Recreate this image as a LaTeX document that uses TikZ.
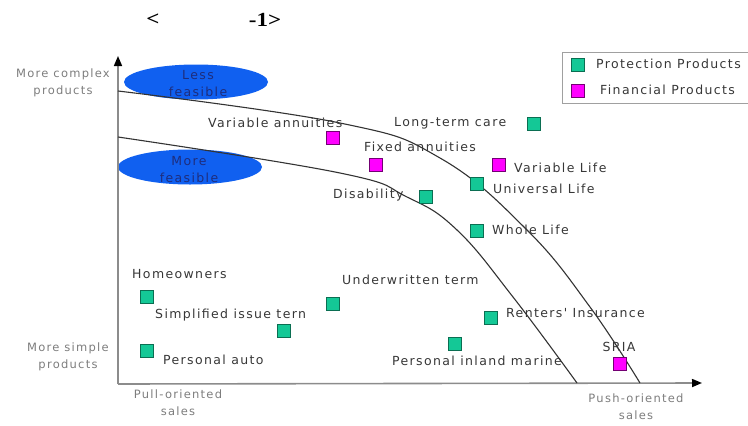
\documentclass[tikz,border=0pt]{standalone}
\usepackage{fontspec}
\usetikzlibrary{shapes.geometric,arrows.meta}
\newfontfamily\lblfont[LetterSpace=11]{DejaVu Sans}
\newfontfamily\ttlfont{Liberation Serif}
\definecolor{protgreen}{RGB}{20,200,150}
\definecolor{finmag}{RGB}{255,0,255}
\definecolor{ellblue}{RGB}{16,96,240}
\definecolor{elltext}{RGB}{30,45,125}
\definecolor{lbltext}{RGB}{55,55,55}
\definecolor{axtext}{RGB}{125,125,125}
\definecolor{axline}{RGB}{140,140,140}
\definecolor{legline}{RGB}{160,160,160}
\begin{document}
\begin{tikzpicture}[x=1pt,y=-1pt,
  lbl/.style={font=\lblfont\fontsize{12.5}{15}\selectfont, text=lbltext, inner sep=0pt, anchor=west},
  axlbl/.style={font=\lblfont\fontsize{11.5}{17}\selectfont, text=axtext, inner sep=0pt, align=center},
  prot/.style={fill=protgreen, draw=protgreen!55!black, line width=0.4pt, minimum size=13pt, inner sep=0pt},
  fin/.style={fill=finmag, draw=finmag!45!black, line width=0.4pt, minimum size=13pt, inner sep=0pt},
  feas/.style={ellipse, fill=ellblue, minimum width=144pt, minimum height=35pt, inner sep=0pt},
  feastext/.style={font=\lblfont\fontsize{12.5}{17}\selectfont, text=elltext, align=center, inner sep=0pt},
  curve/.style={draw=black!80, line width=1.1pt},
  axisline/.style={draw=axline, line width=1.6pt, -{Triangle[length=10pt,width=8pt,color=black]}},
  ttl/.style={font=\ttlfont\bfseries\fontsize{20}{22}\selectfont, inner sep=0pt}
]
\useasboundingbox (0,0) rectangle (748,426);

% title
\node[ttl] (t1) at (153,20) {\scalebox{1.15}[1]{<}};
\node[ttl] (t2) at (265,20) {\scalebox{1.15}[1]{-1>}};

% feasibility ellipses
\node[feas] (less) at (196,82) {};
\node[feastext] (lesst) at (198,84) {Less\\feasible};
\node[feas] (more) at (190,167) {};
\node[feastext] (moret) at (189,170) {More\\feasible};

% axes
\coordinate (O) at (118,384);
\coordinate (ytop) at (118,56);
\coordinate (xend) at (702,383);
\draw[axisline] (O) -- (ytop);
\draw[axisline] (O) -- (xend);

% axis labels
\node[axlbl] (mc) at (63,83) {More complex\\products};
\node[axlbl] (ms) at (68,357) {More simple\\products};
\node[axlbl] (pull) at (178,403) {Pull-oriented\\sales};
\node[axlbl] (push) at (636,407) {Push-oriented\\sales};

% frontier curves
\draw[curve] plot[smooth, tension=0.7] coordinates {(118,91) (340,123) (440,158) (527,230) (590,307) (640,383)};
\draw[curve] plot[smooth, tension=0.7] coordinates {(118,137) (340,173) (407,197) (457,230) (513,297) (577,383)};

% legend
\draw[draw=legline, line width=0.8pt] (562,52) rectangle (760,103);
\node[prot] (lg1) at (578,65) {};
\node[lbl] (lg1t) at (596,64) {Protection Products};
\node[fin] (lg2) at (578,91) {};
\node[lbl] (lg2t) at (600,90) {Financial Products};

% products
\node[fin] (va) at (333,138) {};
\node[lbl] (vat) at (208,123) {Variable annuities};
\node[fin] (fa) at (376,165) {};
\node[lbl] (fat) at (364,147) {Fixed annuities};
\node[prot] (ltc) at (534,124) {};
\node[lbl] (ltct) at (394,123) {Long-term care};
\node[fin] (vl) at (499,165) {};
\node[lbl] (vlt) at (514,168) {Variable Life};
\node[prot] (ul) at (477,184) {};
\node[lbl] (ult) at (493,189) {Universal Life};
\node[prot] (dis) at (426,197) {};
\node[lbl] (dist) at (333,195) {Disability};
\node[prot] (wl) at (477,231) {};
\node[lbl] (wlt) at (492,230) {Whole Life};
\node[prot] (ho) at (147,297) {};
\node[lbl] (hot) at (132,274) {Homeowners};
\node[prot] (uw) at (333,304) {};
\node[lbl] (uwt) at (342,280) {Underwritten term};
\node[prot] (si) at (284,331) {};
\node[lbl] (sit) at (155,315) {Simplified issue tern};
\node[prot] (pa) at (147,351) {};
\node[lbl] (pat) at (163,360) {Personal auto};
\node[prot] (ri) at (491,318) {};
\node[lbl] (rit) at (506,313) {Renters' Insurance};
\node[prot] (pim) at (455,344) {};
\node[lbl] (pimt) at (392,361) {Personal inland marine};
\node[fin] (sria) at (620,364) {};
\node[lbl, anchor=center] (sriat) at (619,347) {SRIA};
\end{tikzpicture}
\end{document}
